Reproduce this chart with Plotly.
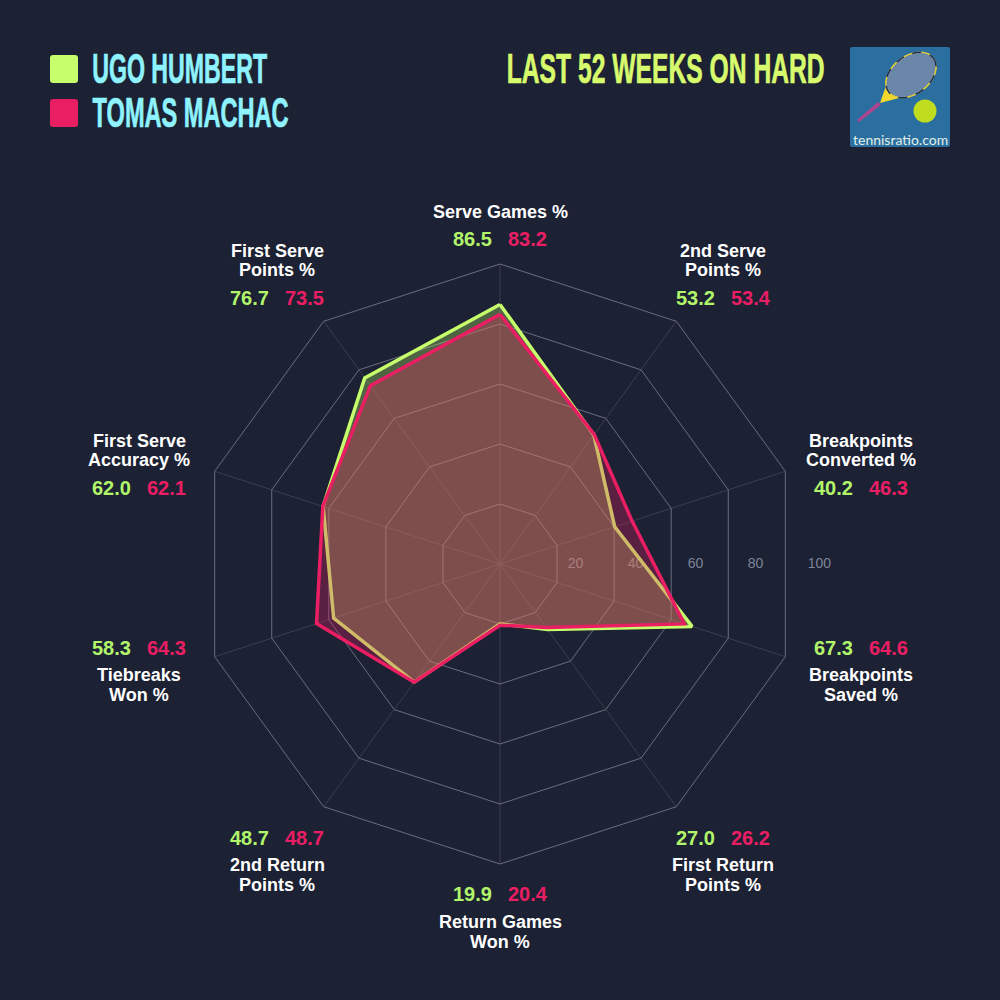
import plotly.graph_objects as go

categories = ["Serve Games %", "2nd Serve Points %", "Breakpoints Converted %", "Breakpoints Saved %",
              "First Return Points %", "Return Games Won %", "2nd Return Points %", "Tiebreaks Won %",
              "First Serve Accuracy %", "First Serve Points %"]
humbert = [86.5, 53.2, 40.2, 67.3, 27.0, 19.9, 48.7, 58.3, 62.0, 76.7]
machac = [83.2, 53.4, 46.3, 64.6, 26.2, 20.4, 48.7, 64.3, 62.1, 73.5]
r_ticks = [20, 40, 60, 80, 100]

# two text lines of each label
label_lines = [["Serve Games %"], ["2nd Serve", "Points %"], ["Breakpoints", "Converted %"], ["Breakpoints", "Saved %"],
               ["First Return", "Points %"], ["Return Games", "Won %"], ["2nd Return", "Points %"], ["Tiebreaks", "Won %"],
               ["First Serve", "Accuracy %"], ["First Serve", "Points %"]]
# label centre x, y of the values row, y of each text line (in page pixels)
label_x = [500, 723, 861, 861, 723, 500, 277, 139, 139, 277]
value_y = [239, 298, 488, 648, 838, 894, 838, 648, 488, 298]
line_y = [[212], [251, 270], [441, 460], [675, 695], [865, 885], [922, 942], [865, 885], [675, 695], [441, 460], [251, 270]]

BG = "#1c2133"
GREEN = "#c6ff6b"
PINK = "#e91e63"
CYAN = "#8ff3ff"
VAL_GREEN = "#b2f56a"


def px(x):
    return x / 1000


def py(y):
    return 1 - y / 1000


def text(x, y, s, size, color, font="Liberation Sans", weight=700):
    return dict(xref="paper", yref="paper", x=px(x), y=py(y), text=s, showarrow=False,
                xanchor="center", yanchor="middle", font=dict(family=font, size=size, color=color, weight=weight))


def ellipse_path(cx, cy, a, b, tilt):
    # rotated ellipse made of 4 beziers
    from math import cos, sin, radians
    t = radians(tilt)
    k = 0.5523

    def p(u, v):
        return "%.4f,%.4f" % (px(cx + u * cos(t) - v * sin(t)), py(cy + u * sin(t) + v * cos(t)))
    return ("M%s C%s %s %s C%s %s %s C%s %s %s C%s %s %s Z" % (
        p(a, 0), p(a, k * b), p(k * a, b), p(0, b), p(-k * a, b), p(-a, k * b), p(-a, 0),
        p(-a, -k * b), p(-k * a, -b), p(0, -b), p(k * a, -b), p(a, -k * b), p(a, 0)))


def poly_path(points):
    return "M" + " L".join("%.4f,%.4f" % (px(x), py(y)) for x, y in points) + " Z"


def rounded(x0, y0, x1, y1, r):
    return ("M%.4f,%.4f L%.4f,%.4f Q%.4f,%.4f %.4f,%.4f L%.4f,%.4f Q%.4f,%.4f %.4f,%.4f L%.4f,%.4f Q%.4f,%.4f %.4f,%.4f L%.4f,%.4f Q%.4f,%.4f %.4f,%.4f Z" % (
        px(x0 + r), py(y0), px(x1 - r), py(y0), px(x1), py(y0), px(x1), py(y0 + r),
        px(x1), py(y1 - r), px(x1), py(y1), px(x1 - r), py(y1),
        px(x0 + r), py(y1), px(x0), py(y1), px(x0), py(y1 - r),
        px(x0), py(y0 + r), px(x0), py(y0), px(x0 + r), py(y0)))


fig = go.Figure()

# tick numbers sit under the radar fill
fig.add_trace(go.Scatterpolar(r=r_ticks, theta=[0] * len(r_ticks), mode="text", text=["\u00a0\u00a0" + str(t) for t in r_ticks],
                              textposition="middle right", textfont=dict(family="Liberation Sans", size=14, color="#7d8599"),
                              hoverinfo="skip", subplot="polar"))

fig.add_trace(go.Scatterpolar(r=humbert + humbert[:1], theta=categories + categories[:1], name="Ugo Humbert", mode="lines",
                              fill="toself", fillcolor="rgba(198,255,107,0.3)", line=dict(color=GREEN, width=3.5), subplot="polar2"))
fig.add_trace(go.Scatterpolar(r=machac + machac[:1], theta=categories + categories[:1], name="Tomas Machac", mode="lines",
                              fill="toself", fillcolor="rgba(233,30,99,0.3)", line=dict(color=PINK, width=3.5), subplot="polar2"))

annotations = []
for i in range(len(categories)):
    for s, y in zip(label_lines[i], line_y[i]):
        annotations.append(text(label_x[i], y, s, 18, "#ffffff"))
    annotations.append(text(label_x[i] - 27.5, value_y[i], "%.1f" % humbert[i], 20, VAL_GREEN))
    annotations.append(text(label_x[i] + 27.5, value_y[i], "%.1f" % machac[i], 20, PINK))

annotations.append(text(179.5, 68.5, "UGO HUMBERT", 42, CYAN))
annotations.append(text(190, 112.5, "TOMAS MACHAC", 42, CYAN))
annotations.append(text(665, 68, "LAST 52 WEEKS ON HARD", 42, "#d8fb6e"))
annotations.append(text(900.5, 139, "tennisratio.com", 14, "#e0efe8", "Lato", 400))

shapes = [
    dict(type="path", xref="paper", yref="paper", path=rounded(50, 55, 78, 83, 3), fillcolor=GREEN, line_width=0),
    dict(type="path", xref="paper", yref="paper", path=rounded(50, 99, 78, 127, 3), fillcolor=PINK, line_width=0),
    # logo
    dict(type="path", xref="paper", yref="paper", path=rounded(850, 47, 950, 147, 2), fillcolor="#2a6f9f", line_width=0),
    dict(type="path", xref="paper", yref="paper", path=poly_path([(857, 120), (859, 122), (881, 105), (878, 102)]), fillcolor="#b0458f", line_width=0),
    dict(type="path", xref="paper", yref="paper", path=poly_path([(887, 83), (880, 103), (903, 97)]), fillcolor="#f0d92c", line_width=0),
    dict(type="path", xref="paper", yref="paper", path=ellipse_path(911, 75, 28, 19, -37), fillcolor="#6a86a8", line=dict(color="#e3cf35", width=1.5)),
    dict(type="path", xref="paper", yref="paper", path=ellipse_path(911, 75, 28, 19, -37), line=dict(color="#1d2c5c", width=1.5, dash="dash")),
    dict(type="circle", xref="paper", yref="paper", x0=px(913.5), x1=px(936.5), y0=py(122.5), y1=py(99.5), fillcolor="#bfdc1e", line_width=0),
]

fig.update_layout(
    width=1000, height=1000, autosize=False,
    margin=dict(l=0, r=0, t=0, b=0),
    paper_bgcolor=BG, plot_bgcolor=BG,
    showlegend=False,
    polar=dict(domain=dict(x=[0.2, 0.8], y=[0.136, 0.736]), bgcolor="rgba(0,0,0,0)",
               radialaxis=dict(visible=False, range=[0, 100]),
               angularaxis=dict(visible=False, rotation=0, direction="counterclockwise", thetaunit="degrees")),
    polar2=dict(domain=dict(x=[0.2, 0.8], y=[0.136, 0.736]), bgcolor="rgba(0,0,0,0)", gridshape="linear",
                radialaxis=dict(range=[0, 100], tickvals=r_ticks, showticklabels=False, ticks="", showline=False,
                                gridcolor="#696d7e", gridwidth=1, layer="below traces"),
                angularaxis=dict(type="category", categoryorder="array", categoryarray=categories, rotation=90,
                                 direction="clockwise", showticklabels=False, ticks="", showline=True,
                                 linecolor="#696d7e", linewidth=1, gridcolor="#3b3f50", gridwidth=1, layer="below traces")),
    annotations=annotations,
    shapes=shapes,
)

# no condensed display font installed, so squeeze the headline text to its width
squeeze = """
document.body.style.margin = '0';
var widths = {'UGO HUMBERT': 175, 'TOMAS MACHAC': 196, 'LAST 52 WEEKS ON HARD': 318};
document.querySelectorAll('.annotation-text').forEach(function (t) {
  var w = widths[t.textContent];
  if (w) {
    t.setAttribute('textLength', w);
    t.setAttribute('lengthAdjust', 'spacingAndGlyphs');
    t.style.stroke = t.style.fill;
    t.style.strokeWidth = '0.7px';
  }
});
"""
fig.write_html("out.html", config=dict(displayModeBar=False), post_script=squeeze)
